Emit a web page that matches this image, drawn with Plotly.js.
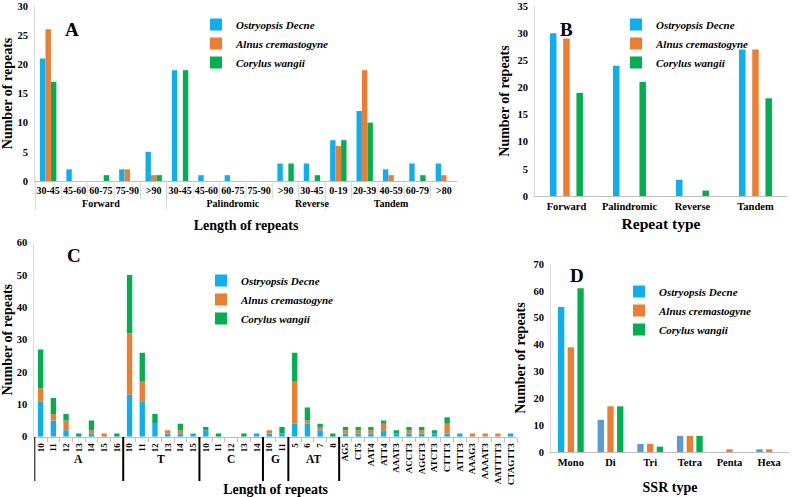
<!DOCTYPE html>
<html><head><meta charset="utf-8">
<script src="https://cdn.plot.ly/plotly-3.0.1.min.js"></script>
<style>body{margin:0;padding:0;background:#fff}#chart{width:792px;height:497px}</style>
</head><body><div id="chart"></div>
<script>
// ---------- DATA ----------
const species = ['Ostryopsis Decne', 'Alnus cremastogyne', 'Corylus wangii'];

// Panel A: length of repeats by repeat type
const A_groups = ['Forward','Forward','Forward','Forward','Forward',
  'Palindromic','Palindromic','Palindromic','Palindromic','Palindromic',
  'Reverse','Tandem','Tandem','Tandem','Tandem','Tandem'];
const A_lengths = ['30-45','45-60','60-75','75-90','>90',
  '30-45','45-60','60-75','75-90','>90',
  '30-45','0-19','20-39','40-59','60-79','>80'];
const A_ostryopsis = [21,2,0,2,5, 19,1,1,0,3, 3, 7,12,2,3,3];
const A_alnus      = [26,0,0,2,1, 0,0,0,0,0, 0, 6,19,1,0,1];
const A_corylus    = [17,0,1,0,1, 19,0,0,0,3, 1, 7,10,0,1,0];

// Panel B: repeat type
const B_types = ['Forward','Palindromic','Reverse','Tandem'];
const B_ostryopsis = [30,24,3,27];
const B_alnus      = [29,0,0,27];
const B_corylus    = [19,21,1,18];

// Panel C: SSR motifs (stacked)
const C_groupNames = ['A','T','C','G','AT',''];
const C_groupSizes = [7,6,5,2,4,14];
const C_labels = ['10','11','12','13','14','15','16',
  '10','11','12','13','14','15',
  '10','11','12','13','14',
  '10','11',
  '5','6','7','8',
  'AG5','CT5','AAT4','ATT4','AAAT3','ACCT3','AGGT3','ATCT3','CTTT3','ATTT3','AAAG3','AAAAT3','AATTTT3','CTAGTT3'];
const C_ostryopsis = [11,5,2,0,1,0,0, 13,11,4,1,1,1, 2,0,0,0,1, 1,1, 4,4,2,0,
  1,1,1,2,1,1,1,1,1,1,0,0,0,1];
const C_alnus      = [4,2,3,0,1,1,0, 19,6,0,1,1,0, 0,0,0,0,0, 1,0, 13,1,1,0,
  1,1,1,2,0,1,1,0,3,0,1,1,1,0];
const C_corylus    = [12,5,2,1,3,0,1, 18,9,3,0,2,0, 1,1,0,1,0, 0,2, 9,4,1,1,
  1,1,1,1,1,1,1,1,2,0,0,0,0,0];

// Panel D: SSR type
const D_types = ['Mono','Di','Tri','Tetra','Penta','Hexa'];
const D_ostryopsis = [54,12,3,6,0,1];
const D_alnus      = [39,17,3,6,1,1];
const D_corylus    = [61,17,2,6,0,0];

// ---------- STYLE ----------
const BLUE = '#0FAFEF', ORANGE = '#ED7D31', GREEN = '#00B050', STEEL = '#5B9BD5';
const colors = [BLUE, ORANGE, GREEN];
const FONT = '"Liberation Serif", "Times New Roman", Times, serif';
const W = 792, H = 497;
const px = v => v / W, py = v => 1 - v / H;

const traces = [];
const A_x = [A_groups, A_lengths];
[A_ostryopsis, A_alnus, A_corylus].forEach((vals, i) => {
  traces.push({type:'bar', name:species[i], x:A_x, y:vals, xaxis:'x', yaxis:'y',
    legend:'legend', marker:{color:colors[i], line:{width:0}},
    width:0.205, offset:-0.31 + i*0.208});
});
[B_ostryopsis, B_alnus, B_corylus].forEach((vals, i) => {
  traces.push({type:'bar', name:species[i], x:B_types, y:vals, xaxis:'x2', yaxis:'y2',
    legend:'legend2', marker:{color:colors[i], line:{width:0}},
    width:0.103, offset:-0.262 + i*0.21});
});
const C_idx = C_labels.map((_, i) => i);
const C_series = [C_ostryopsis, C_alnus, C_corylus];
let C_base = C_labels.map(() => 0);
C_series.forEach((vals, i) => {
  traces.push({type:'bar', name:species[i], x:C_idx, y:vals, base:C_base.slice(),
    xaxis:'x3', yaxis:'y3', legend:'legend3', marker:{color:colors[i], line:{width:0}},
    width:0.42, offset:-0.21});
  C_base = C_base.map((b, k) => b + vals[k]);
});
const D_blueColors = D_types.map((_, i) => i === 0 ? BLUE : STEEL);
[D_ostryopsis, D_alnus, D_corylus].forEach((vals, i) => {
  traces.push({type:'bar', name:species[i], x:D_types, y:vals, xaxis:'x4', yaxis:'y4',
    legend:'legend4', marker:{color: i === 0 ? D_blueColors : colors[i], line:{width:0}},
    width:0.16, offset:-0.325 + i*0.245});
});

const tf = (s) => ({family:FONT, size:s, color:'#000', weight:'bold'});
const yAx = (dom, max, dt, anchor) => ({domain:dom, range:[0,max], dtick:dt, anchor:anchor,
  showgrid:false, zeroline:false, showline:true, linecolor:'#d9d9d9', ticks:'',
  tickfont:tf(10.5), ticklabelstandoff:4,
  title:{text:'Number of repeats', font:tf(14), standoff:4}});
const legendStyle = (x, y) => ({x:x, y:y, xanchor:'left', yanchor:'top', bgcolor:'rgba(0,0,0,0)',
  font:{family:FONT, size:11, color:'#000', style:'italic', weight:'bold'}, itemwidth:30});

// Panel C group dividers and labels
const shapes = [];
const annotations = [];
let start = 0;
C_groupNames.forEach((g, gi) => {
  const n = C_groupSizes[gi];
  shapes.push({type:'line', xref:'x3', yref:'paper', x0:start-0.5, x1:start-0.5,
    y0:py(437), y1:py(481), line:{color:'#000', width:2}});
  if (g) annotations.push({xref:'x3', yref:'paper', x:start + (n-1)/2, y:py(467),
    text:g, showarrow:false, font:tf(11.5)});
  start += n;
});
// Panel A separators between length classes
A_lengths.forEach((_, i) => {
  if (i > 0) shapes.push({type:'line', xref:'x', yref:'paper', x0:i-0.5, x1:i-0.5,
    y0:py(181), y1:py(199), line:{color:'#d9d9d9', width:1}});
});
[['A',63,17],['B',575,17],['C',65,255],['D',586,275]].forEach(([t,x,y]) => {
  annotations.push({xref:'paper', yref:'paper', x:px(x), y:py(y), text:t, showarrow:false,
    font:tf(19)});
});

const layout = {
  width:W, height:H, margin:{l:0,r:0,t:0,b:0}, paper_bgcolor:'#fff', plot_bgcolor:'rgba(0,0,0,0)',
  barmode:'overlay', font:{family:FONT, color:'#000'}, showlegend:true,
  xaxis:{domain:[px(35), px(457)], anchor:'y', type:'multicategory', showline:true, linecolor:'#bfbfbf',
    ticks:'', tickangle:0, showdividers:true, dividercolor:'#d9d9d9', dividerwidth:1, tickfont:tf(10),
    title:{text:'Length of repeats', font:tf(14), standoff:12}},
  yaxis:yAx([py(181), py(6)], 30, 5, 'x'),
  xaxis2:{domain:[px(535), px(787)], anchor:'y2', showline:true, linecolor:'#bfbfbf', ticks:'',
    tickfont:tf(10.5), title:{text:'Repeat type', font:tf(15.5), standoff:7}},
  yaxis2:yAx([py(196), py(6)], 35, 5, 'x2'),
  xaxis3:{domain:[px(34.3), px(517)], anchor:'y3', range:[-0.5, C_labels.length-0.5],
    tickmode:'array', tickvals:C_idx, ticktext:C_labels, tickangle:-90, tickfont:tf(9),
    showline:true, linecolor:'#bfbfbf', ticks:'', ticklabelstandoff:2,
    minor:{tickmode:'linear', tick0:-0.5, dtick:1, ticks:'outside', ticklen:4, tickcolor:'#bfbfbf', showgrid:false},
    showgrid:false, zeroline:false,
    title:{text:'Length of repeats', font:tf(14), standoff:2}},
  yaxis3:yAx([py(436.7), py(242.7)], 60, 10, 'x3'),
  xaxis4:{domain:[px(551), px(789)], anchor:'y4', showline:true, linecolor:'#bfbfbf', ticks:'',
    tickfont:tf(10.5), title:{text:'SSR type', font:tf(14), standoff:15}},
  yaxis4:yAx([py(452), py(264)], 70, 10, 'x4'),
  legend:legendStyle(px(196), py(10)),
  legend2:legendStyle(px(616), py(10)),
  legend3:legendStyle(px(201), py(266)),
  legend4:legendStyle(px(619), py(277)),
  shapes:shapes, annotations:annotations
};

Plotly.newPlot('chart', traces, layout, {displayModeBar:false, staticPlot:true});
</script></body></html>
